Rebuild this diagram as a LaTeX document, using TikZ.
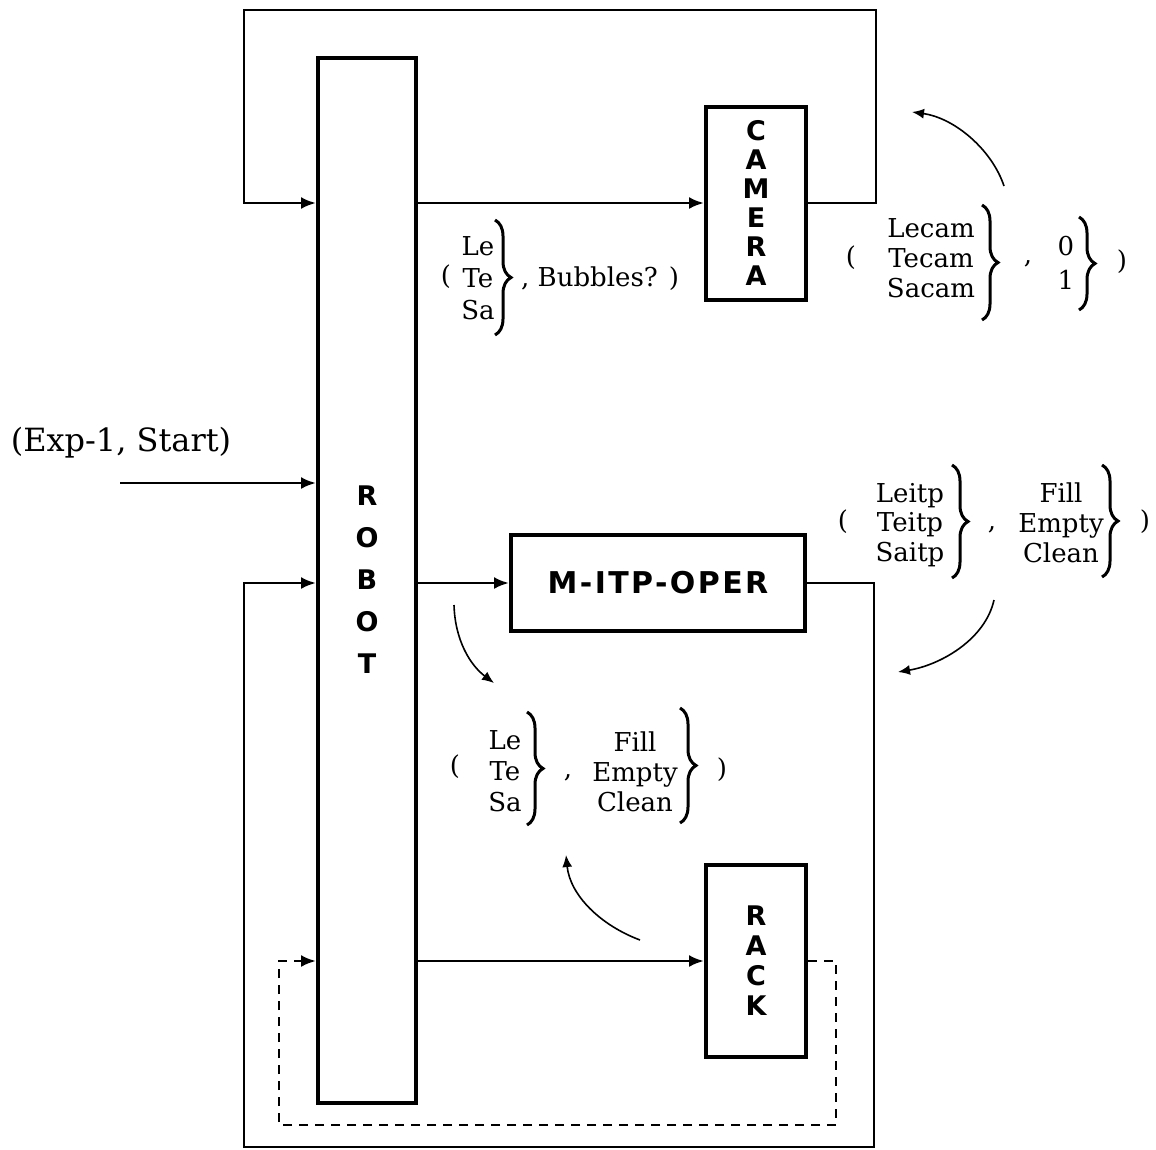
\documentclass[tikz,border=0pt]{standalone}
\usepackage{fontspec}
\setmainfont{DejaVu Serif}
\newfontfamily\boxfont{DejaVu Sans}[LetterSpace=8]
\usetikzlibrary{arrows.meta,positioning,decorations.pathreplacing}

\begin{document}
\begin{tikzpicture}[
  x=1pt, y=-1pt,
  >={Latex[length=15pt,width=12pt]},
  unit/.style={draw, line width=4pt, inner sep=0pt, align=center, font=\boxfont\bfseries\fontsize{27}{29}\selectfont},
  lbl/.style={inner sep=0pt, align=center, font=\fontsize{26}{31}\selectfont},
  brc/.style={decorate, decoration={brace, amplitude=16pt}, line width=3pt},
  wire/.style={line width=2.7pt},
  note/.style={line width=1.6pt, ->, >={Latex[length=12pt,width=10pt]}}
]
\useasboundingbox (0,0) rectangle (1156,1149);

\node[unit, minimum width=98pt, minimum height=1045pt, font=\boxfont\bfseries\fontsize{27}{42}\selectfont] (robot) at (367,580) {R\\O\\B\\O\\T};
\node[unit, minimum width=100pt, minimum height=193pt] (camera) at (756,203) {C\\A\\M\\E\\R\\A};
\node[unit, minimum width=294pt, minimum height=96pt, font=\boxfont\bfseries\fontsize{30}{32}\selectfont] (itp) at (658,583) {M-ITP-OPER};
\node[unit, minimum width=100pt, minimum height=192pt, font=\boxfont\bfseries\fontsize{27}{30}\selectfont] (rack) at (756,961) {R\\A\\C\\K};

% outer loops
\coordinate (topR) at (876,10);
\coordinate (topL) at (244,10);
\coordinate (botR) at (874,1147);
\coordinate (botL) at (244,1147);
\coordinate (dashR) at (836,1125);
\coordinate (dashL) at (279,1125);

\draw[wire, ->] (robot.east |- camera.west) -- (camera.west);
\draw[wire, ->] (camera.east) -| (topR) -- (topL) |- (robot.west |- camera.west);

\draw[wire, ->] (robot.east |- itp.west) -- (itp.west);
\draw[wire, ->] (itp.east) -| (botR) -- (botL) |- (robot.west |- itp.west);

\draw[wire, ->] (robot.east |- rack.west) -- (rack.west);
\draw[wire, ->, dash pattern=on 9pt off 7pt] (rack.east) -| (dashR) -- (dashL) |- (robot.west |- rack.west);

% start input
\coordinate (startpt) at (120,483);
\draw[wire, ->] (startpt) -- (robot.west |- startpt);
\node[lbl, font=\fontsize{32}{36}\selectfont] (startlbl) at (121,443) {(Exp-1, Start)};

% robot -> camera label
\node[lbl] (caminP) at (446,277) {(};
\node[lbl, font=\fontsize{26}{32}\selectfont] (caminC) at (478,278) {Le\\Te\\Sa};
\draw[brc] (495,220) -- (495,335);
\node[lbl, anchor=west] (caminR) at (521,279) {, Bubbles? )};

% camera output label
\node[lbl] (camoutP) at (851,258) {(};
\node[lbl, font=\fontsize{26}{30}\selectfont] (camoutC) at (931,258) {Lecam\\Tecam\\Sacam};
\draw[brc] (982,205) -- (982,320);
\node[lbl] (camoutK) at (1028,264) {,};
\node[lbl, font=\fontsize{26}{34}\selectfont] (camoutD) at (1066,263) {0\\1};
\draw[brc] (1079,217) -- (1079,310);
\node[lbl] (camoutQ) at (1122,262) {)};

% m-itp-oper output label
\node[lbl] (itpoutP) at (843,522) {(};
\node[lbl, font=\fontsize{26}{29.5}\selectfont] (itpoutC) at (910,525) {Leitp\\Teitp\\Saitp};
\draw[brc] (952,465) -- (952,578);
\node[lbl] (itpoutK) at (992,530) {,};
\node[lbl, font=\fontsize{26}{30}\selectfont] (itpoutD) at (1061,523) {Fill\\Empty\\Clean};
\draw[brc] (1102,465) -- (1102,577);
\node[lbl] (itpoutQ) at (1145,522) {)};

% rack output label
\node[lbl] (rackoutP) at (455,767) {(};
\node[lbl, font=\fontsize{26}{31}\selectfont] (rackoutC) at (505,771) {Le\\Te\\Sa};
\draw[brc] (527,712) -- (527,825);
\node[lbl] (rackoutK) at (568,778) {,};
\node[lbl, font=\fontsize{26}{30}\selectfont] (rackoutD) at (635,772) {Fill\\Empty\\Clean};
\draw[brc] (680,708) -- (680,823);
\node[lbl] (rackoutQ) at (722,770) {)};

% hint arrows
\coordinate (bendAs) at (1004,186);
\coordinate (bendAe) at (912,112);
\draw[note] (bendAs) .. controls (992,150) and (955,118) .. (bendAe);
\coordinate (bendBs) at (994,600);
\coordinate (bendBe) at (898,672);
\draw[note] (bendBs) .. controls (985,640) and (940,665) .. (bendBe);
\coordinate (bendCs) at (454,605);
\coordinate (bendCe) at (494,683);
\draw[note] (bendCs) .. controls (455,640) and (470,665) .. (bendCe);
\coordinate (bendDs) at (640,940);
\coordinate (bendDe) at (566,855);
\draw[note] (bendDs) .. controls (600,925) and (570,895) .. (bendDe);

\end{tikzpicture}
\end{document}
